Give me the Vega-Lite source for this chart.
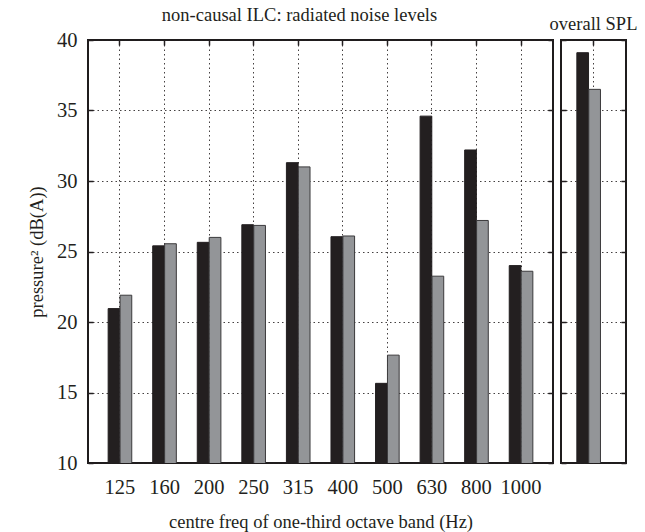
{
  "$schema": "https://vega.github.io/schema/vega-lite/v6.json",
  "background": "white",
  "padding": {"left": 26, "top": 4, "right": 5, "bottom": 2},
  "config": {
    "font": "Liberation Serif",
    "view": {"stroke": "#1f1c1d", "strokeWidth": 2},
    "axis": {
      "labelFont": "Liberation Serif",
      "titleFont": "Liberation Serif",
      "labelFontSize": 20.5,
      "titleFontSize": 18.5,
      "titleFontWeight": "normal",
      "labelColor": "#231f20",
      "titleColor": "#231f20",
      "domain": false,
      "tickColor": "#231f20",
      "tickSize": -5,
      "tickWidth": 1.5,
      "gridColor": "#231f20",
      "gridDash": [1.5, 3],
      "gridWidth": 1,
      "gridOpacity": 0.85
    },
    "title": {"font": "Liberation Serif", "fontSize": 18.5, "fontWeight": "normal", "color": "#231f20"},
    "concat": {"spacing": -7}
  },
  "data": {
    "values": [
      {"panel": "bands", "band": "125", "series": "s1", "level": 20.95},
      {"panel": "bands", "band": "125", "series": "s2", "level": 21.9},
      {"panel": "bands", "band": "160", "series": "s1", "level": 25.4},
      {"panel": "bands", "band": "160", "series": "s2", "level": 25.55},
      {"panel": "bands", "band": "200", "series": "s1", "level": 25.65},
      {"panel": "bands", "band": "200", "series": "s2", "level": 26.0},
      {"panel": "bands", "band": "250", "series": "s1", "level": 26.9},
      {"panel": "bands", "band": "250", "series": "s2", "level": 26.85},
      {"panel": "bands", "band": "315", "series": "s1", "level": 31.3},
      {"panel": "bands", "band": "315", "series": "s2", "level": 31.0},
      {"panel": "bands", "band": "400", "series": "s1", "level": 26.05},
      {"panel": "bands", "band": "400", "series": "s2", "level": 26.1},
      {"panel": "bands", "band": "500", "series": "s1", "level": 15.65},
      {"panel": "bands", "band": "500", "series": "s2", "level": 17.65},
      {"panel": "bands", "band": "630", "series": "s1", "level": 34.6},
      {"panel": "bands", "band": "630", "series": "s2", "level": 23.25},
      {"panel": "bands", "band": "800", "series": "s1", "level": 32.2},
      {"panel": "bands", "band": "800", "series": "s2", "level": 27.2},
      {"panel": "bands", "band": "1000", "series": "s1", "level": 24.0},
      {"panel": "bands", "band": "1000", "series": "s2", "level": 23.6},
      {"panel": "overall", "band": "overall", "series": "s1", "level": 39.1},
      {"panel": "overall", "band": "overall", "series": "s2", "level": 36.5}
    ]
  },
  "hconcat": [
    {
      "width": 465,
      "height": 423,
      "title": {"text": "non-causal ILC: radiated noise levels", "dx": -21, "offset": 6},
      "transform": [{"filter": "datum.panel == 'bands'"}],
      "resolve": {"axis": {"x": "independent", "y": "independent"}},
      "layer": [
        {
          "mark": {"type": "bar", "strokeWidth": 1, "clip": true},
          "encoding": {
            "x": {
              "field": "band", "type": "ordinal", "sort": null,
              "scale": {"paddingInner": 0.47, "paddingOuter": 0.452},
              "axis": {"orient": "bottom", "labelAngle": 0, "bandPosition": 0.5, "grid": true,
                       "labelPadding": 19, "titlePadding": 15,
                       "title": "centre freq of one-third octave band (Hz)"}
            },
            "xOffset": {"field": "series", "type": "nominal", "scale": {"paddingInner": 0.02}},
            "y": {
              "field": "level", "type": "quantitative",
              "scale": {"domain": [10, 40], "zero": false, "nice": false},
              "axis": {"orient": "left", "values": [10, 15, 20, 25, 30, 35, 40], "grid": true,
                       "labelPadding": 16, "titlePadding": 10, "title": "pressure² (dB(A))"}
            },
            "color": {"field": "series", "type": "nominal", "legend": null,
                      "scale": {"domain": ["s1", "s2"], "range": ["#231f20", "#939598"]}},
            "stroke": {"field": "series", "type": "nominal", "legend": null,
                       "scale": {"domain": ["s1", "s2"], "range": ["#231f20", "#3b3a3c"]}}
          }
        },
        {
          "mark": {"type": "bar", "opacity": 0, "clip": true},
          "encoding": {
            "x": {"field": "band", "type": "ordinal", "sort": null,
                  "axis": {"orient": "top", "labels": false, "grid": false, "title": null, "bandPosition": 0.5}},
            "xOffset": {"field": "series", "type": "nominal"},
            "y": {"field": "level", "type": "quantitative",
                  "axis": {"orient": "right", "labels": false, "grid": false, "title": null,
                           "values": [10, 15, 20, 25, 30, 35, 40]}}
          }
        }
      ]
    },
    {
      "width": 65,
      "height": 423,
      "title": {"text": "overall SPL", "offset": 6},
      "transform": [{"filter": "datum.panel == 'overall'"}],
      "resolve": {"axis": {"x": "independent", "y": "independent"}},
      "layer": [
        {
          "mark": {"type": "bar", "strokeWidth": 1, "clip": true},
          "encoding": {
            "x": {
              "field": "band", "type": "ordinal",
              "scale": {"paddingInner": 0, "paddingOuter": 0.476},
              "axis": {"orient": "bottom", "labels": false, "bandPosition": 0.5, "grid": true, "title": null}
            },
            "xOffset": {"field": "series", "type": "nominal", "scale": {"paddingInner": 0.08}},
            "y": {
              "field": "level", "type": "quantitative",
              "scale": {"domain": [10, 40], "zero": false, "nice": false},
              "axis": {"orient": "left", "labels": false, "values": [10, 15, 20, 25, 30, 35, 40],
                       "grid": true, "title": null}
            },
            "color": {"field": "series", "type": "nominal", "legend": null,
                      "scale": {"domain": ["s1", "s2"], "range": ["#231f20", "#939598"]}},
            "stroke": {"field": "series", "type": "nominal", "legend": null,
                       "scale": {"domain": ["s1", "s2"], "range": ["#231f20", "#3b3a3c"]}}
          }
        },
        {
          "mark": {"type": "bar", "opacity": 0, "clip": true},
          "encoding": {
            "x": {"field": "band", "type": "ordinal",
                  "axis": {"orient": "top", "labels": false, "grid": false, "title": null, "bandPosition": 0.5}},
            "xOffset": {"field": "series", "type": "nominal"},
            "y": {"field": "level", "type": "quantitative",
                  "axis": {"orient": "right", "labels": false, "grid": false, "title": null,
                           "values": [10, 15, 20, 25, 30, 35, 40]}}
          }
        }
      ]
    }
  ]
}
